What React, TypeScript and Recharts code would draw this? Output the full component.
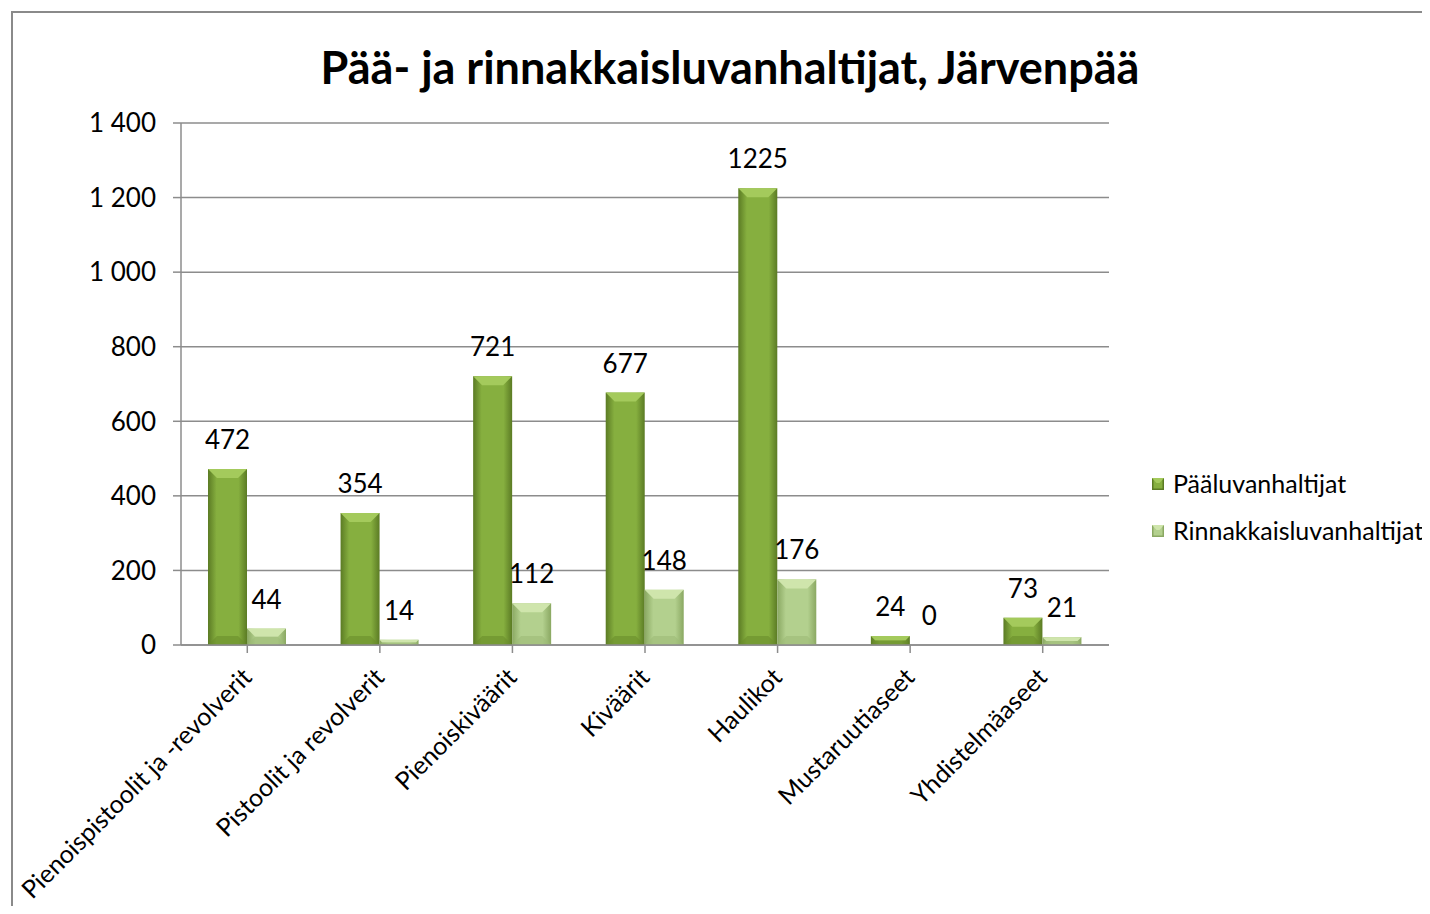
import React from "react";
import {
  BarChart,
  Bar,
  XAxis,
  YAxis,
  CartesianGrid,
  LabelList,
} from "recharts";

const categories = [
  "Pienoispistoolit ja -revolverit",
  "Pistoolit ja revolverit",
  "Pienoiskiväärit",
  "Kiväärit",
  "Haulikot",
  "Mustaruutiaseet",
  "Yhdistelmäaseet",
];
const paaluvat = [472, 354, 721, 677, 1225, 24, 73];
const rinnakkaisluvat = [44, 14, 112, 148, 176, 0, 21];
const yTicks = [0, 200, 400, 600, 800, 1000, 1200, 1400];

const seriesNames = ["Pääluvanhaltijat", "Rinnakkaisluvanhaltijat"];

const FONT = "Lato, 'Open Sans', sans-serif";
const GRID = "#8c8c8c";

const rows = categories.map((name, i) => ({
  name,
  main: paaluvat[i],
  side: rinnakkaisluvat[i],
}));

const palette = {
  main: { edge: "#5b7b24", mid: "#86af3f", top: "#a4ca5c", bottom: "#6a8d2c" },
  side: { edge: "#8aa862", mid: "#b3d08e", top: "#cfe5ac", bottom: "#9dbb76" },
};

function bevelShape(kind: "main" | "side") {
  const c = palette[kind];
  return (props: any) => {
    const { x, y, width, height } = props;
    if (!height || height <= 0) return <g />;
    const b = Math.min(9, height / 2, width / 4);
    return (
      <g>
        <rect x={x} y={y} width={width} height={height} fill={`url(#grad-${kind})`} />
        <polygon
          points={`${x},${y} ${x + width},${y} ${x + width - b},${y + b} ${x + b},${y + b}`}
          fill={c.top}
        />
        <polygon
          points={`${x},${y + height} ${x + width},${y + height} ${x + width - b},${y + height - b} ${x + b},${y + height - b}`}
          fill={c.bottom}
          opacity={0.6}
        />
      </g>
    );
  };
}

const fmt = (v: number) => String(v).replace(/\B(?=(\d{3})+(?!\d))/g, " ");

function XTick(props: any) {
  const { x, y, payload } = props;
  return (
    <g transform={`translate(${x + 6},${y + 26})`}>
      <text
        transform="rotate(-45)"
        textAnchor="end"
        fontSize={25}
        fontFamily={FONT}
        fill="#000"
      >
        {payload.value}
      </text>
    </g>
  );
}

function LegendIcon({ kind }: { kind: "main" | "side" }) {
  const c = palette[kind];
  return (
    <svg width={12} height={12} style={{ display: "block" }}>
      <rect x={0} y={0} width={12} height={12} fill={c.edge} />
      <rect x={1.5} y={1.5} width={9} height={9} fill={c.mid} />
      <polygon points="0,0 12,0 7.5,5 4.5,5" fill={c.top} />
    </svg>
  );
}

export default function App() {
  return (
    <div
      style={{
        position: "relative",
        width: 1422,
        height: 898,
        overflow: "hidden",
        background: "#fff",
        fontFamily: FONT,
      }}
    >
      <div
        style={{
          position: "absolute",
          left: 3,
          top: 3,
          width: 1450,
          height: 940,
          border: "2px solid #8a8a8a",
        }}
      />
      <div
        style={{
          position: "absolute",
          left: 0,
          width: 1444,
          top: 37,
          textAlign: "center",
          fontSize: 45,
          fontWeight: 700,
          lineHeight: 1,
          color: "#000",
        }}
      >
        Pää- ja rinnakkaisluvanhaltijat, Järvenpää
      </div>
      <BarChart
        width={1422}
        height={898}
        data={rows}
        margin={{ top: 115, right: 321, bottom: 6, left: 0 }}
        barSize={39}
        barGap={0}
        style={{ position: "absolute", left: 0, top: 0 }}
      >
        <defs>
          {(["main", "side"] as const).map((k) => (
            <linearGradient key={k} id={`grad-${k}`} x1="0" y1="0" x2="1" y2="0">
              <stop offset="0%" stopColor={palette[k].edge} />
              <stop offset="22%" stopColor={palette[k].mid} />
              <stop offset="78%" stopColor={palette[k].mid} />
              <stop offset="100%" stopColor={palette[k].edge} />
            </linearGradient>
          ))}
        </defs>
        <CartesianGrid vertical={false} stroke={GRID} strokeWidth={1.5} />
        <XAxis
          dataKey="name"
          interval={0}
          height={255}
          tickSize={8}
          tickMargin={0}
          axisLine={{ stroke: GRID, strokeWidth: 1.5 }}
          tickLine={{ stroke: GRID, strokeWidth: 1.5 }}
          tick={<XTick />}
        />
        <YAxis
          width={173}
          domain={[0, 1400]}
          ticks={yTicks}
          tickSize={8}
          tickMargin={17}
          tickFormatter={fmt}
          axisLine={{ stroke: GRID, strokeWidth: 1.5 }}
          tickLine={{ stroke: GRID, strokeWidth: 1.5 }}
          tick={{ fontSize: 26, fontFamily: FONT, fill: "#000" }}
        />
        <Bar dataKey="main" name={seriesNames[0]} shape={bevelShape("main")} isAnimationActive={false}>
          <LabelList
            dataKey="main"
            position="top"
            offset={20}
            fontSize={26}
            fontFamily={FONT}
            fill="#000"
          />
        </Bar>
        <Bar dataKey="side" name={seriesNames[1]} shape={bevelShape("side")} isAnimationActive={false}>
          <LabelList
            dataKey="side"
            position="top"
            offset={20}
            fontSize={26}
            fontFamily={FONT}
            fill="#000"
          />
        </Bar>
      </BarChart>
      <div style={{ position: "absolute", left: 1144, top: 452, fontSize: 25, color: "#000" }}>
        {(["main", "side"] as const).map((k, i) => (
          <div
            key={k}
            style={{ display: "flex", alignItems: "center", height: 47, lineHeight: 1 }}
          >
            <LegendIcon kind={k} />
            <span style={{ marginLeft: 9 }}>{seriesNames[i]}</span>
          </div>
        ))}
      </div>
    </div>
  );
}
